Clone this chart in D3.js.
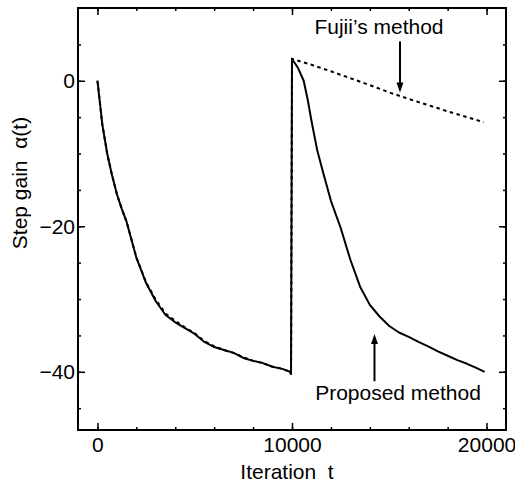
<!DOCTYPE html>
<html>
<head>
<meta charset="utf-8">
<script src="https://cdn.jsdelivr.net/npm/d3@7"></script>
<style>
  body { margin: 0; background: #fff; }
  svg { display: block; }
  .tick text { font-family: "Liberation Sans", Arial, sans-serif; font-size: 21px; fill: #000; }
  .lbl { font-family: "Liberation Sans", Arial, sans-serif; font-size: 21px; fill: #000; }
</style>
</head>
<body>
<div id="chart"></div>
<script>
/* data */
var proposedT = [0, 250, 500, 750, 1000, 1250, 1500, 2000, 2500, 3000, 3500, 4000, 4500, 5000, 5500,
  6000, 6500, 7000, 7500, 8000, 8500, 9000, 9500, 9900, 9950,
  10000, 10300, 10600, 10800, 11000, 11300, 11600, 12000, 12500, 13000, 13500, 14000, 14500,
  15000, 15500, 16000, 16500, 17000, 17500, 18000, 18500, 19000, 19500, 19900];
var proposedA = [0, -6, -10, -13, -15.6, -17.6, -19.4, -24.3, -27.8, -30.3, -32.2, -33.2, -34.0, -34.8, -35.9,
  -36.6, -37.0, -37.4, -38.1, -38.5, -38.8, -39.3, -39.6, -40.0, -40.3,
  3.0, 1.8, 0.0, -2.5, -5.5, -9.6, -12.6, -16.5, -20.2, -24.6, -28.3, -30.8, -32.4,
  -33.7, -34.6, -35.2, -35.9, -36.5, -37.2, -37.8, -38.4, -38.9, -39.5, -40.0];

var fujiiT = [0, 250, 500, 750, 1000, 1250, 1500, 2000, 2500, 3000, 3500, 4000, 4500, 5000, 5500,
  6000, 6500, 7000, 7500, 8000, 8500, 9000, 9500, 9900, 9950,
  10000, 11000, 12000, 13000, 14000, 15000, 16000, 17000, 18000, 19000, 19850];
var fujiiA = [0, -6, -10, -13, -15.6, -17.6, -19.4, -24.3, -27.7, -30.1, -32.0, -33.0, -33.9, -34.7, -35.8,
  -36.5, -37.0, -37.4, -38.0, -38.5, -38.8, -39.3, -39.6, -40.0, -40.3,
  3.0, 2.2, 1.3, 0.35, -0.6, -1.6, -2.5, -3.35, -4.2, -5.0, -5.7];

var xMajor = [0, 10000, 20000];
var xMinor = d3.range(0, 21000, 2000);
var yMajor = [0, -20, -40];
var yMinor = d3.range(-45, 10, 5);

/* annotations, in data units */
var notes = [
  {text: "Fujii\u2019s method", tx: 14470, ty: 6.4, ax: 15550, a0: 5.4, a1: -1.6},
  {text: "Proposed method", tx: 15450, ty: -43.9, ax: 14240, a0: -41.3, a1: -34.8}
];

var W = 515, H = 484;
var x = d3.scaleLinear().domain([-1000, 21000]).range([78, 506]);
var y = d3.scaleLinear().domain([-48, 10]).range([430, 8]);

var svg = d3.select("#chart").append("svg").attr("width", W).attr("height", H);

function addAxis(axis, tr, vals, size, labels) {
  var g = svg.append("g").attr("transform", tr)
    .call(axis.tickValues(vals).tickSize(size).tickPadding(labels ? 5 : 0)
      .tickFormat(labels ? d3.format("d") : ""));
  g.select(".domain").remove();
  g.selectAll(".tick line").attr("stroke", "#000").attr("stroke-width", 1.5);
  return g;
}

// minor ticks all round
addAxis(d3.axisBottom(x), "translate(0,430)", xMinor, -3, false);
addAxis(d3.axisTop(x), "translate(0,8)", xMinor, -3, false);
addAxis(d3.axisLeft(y), "translate(78,0)", yMinor, -3, false);
addAxis(d3.axisRight(y), "translate(506,0)", yMinor, -3, false);
// major ticks
var gx = addAxis(d3.axisBottom(x), "translate(0,430)", xMajor, -7, true);
gx.selectAll(".tick text").attr("dy", null).attr("y", 21.5);
addAxis(d3.axisTop(x), "translate(0,8)", xMajor, -7, false);
var gy = addAxis(d3.axisLeft(y), "translate(78,0)", yMajor, -7, true);
gy.selectAll(".tick text").attr("x", -3);
addAxis(d3.axisRight(y), "translate(506,0)", yMajor, -7, false);

svg.append("rect")
  .attr("x", 78).attr("y", 8).attr("width", 428).attr("height", 422)
  .attr("fill", "none").attr("stroke", "#000").attr("stroke-width", 2);

var line = d3.line()
  .x(function(d) { return x(d[0]); })
  .y(function(d) { return y(d[1]); });

svg.append("path")
  .datum(d3.zip(proposedT, proposedA))
  .attr("d", line)
  .attr("fill", "none").attr("stroke", "#000").attr("stroke-width", 2)
  .attr("stroke-linejoin", "round");

svg.append("path")
  .datum(d3.zip(fujiiT, fujiiA))
  .attr("d", line)
  .attr("fill", "none").attr("stroke", "#000").attr("stroke-width", 2)
  .attr("stroke-dasharray", "3.5,3.5");

notes.forEach(function(n) {
  svg.append("text").attr("class", "lbl")
    .attr("x", x(n.tx)).attr("y", y(n.ty))
    .attr("text-anchor", "middle")
    .text(n.text);
  var px = x(n.ax), p0 = y(n.a0), p1 = y(n.a1);
  var dir = p1 > p0 ? 1 : -1;
  svg.append("line")
    .attr("x1", px).attr("x2", px)
    .attr("y1", p0).attr("y2", p1 - dir * 8)
    .attr("stroke", "#000").attr("stroke-width", 2);
  svg.append("path")
    .attr("d", "M" + (px - 3.5) + "," + (p1 - dir * 10) + "L" + (px + 3.5) + "," + (p1 - dir * 10) + "L" + px + "," + p1 + "Z")
    .attr("fill", "#000");
});

// axis titles
svg.append("text").attr("class", "lbl")
  .attr("x", x(10000) - 5).attr("y", 479)
  .attr("text-anchor", "middle")
  .text("Iteration\u00a0\u00a0t");

svg.append("text").attr("class", "lbl")
  .attr("transform", "translate(27," + 183 + ") rotate(-90)")
  .attr("text-anchor", "middle")
  .text("Step gain\u00a0\u00a0\u03b1(t)");
</script>
</body>
</html>
